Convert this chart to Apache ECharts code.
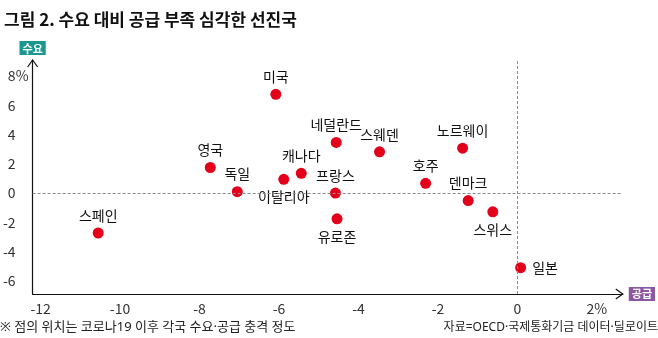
<!DOCTYPE html>
<html>
<head>
<meta charset="utf-8">
<script src="https://cdn.jsdelivr.net/npm/echarts@6/dist/echarts.min.js"></script>
<style>
  html, body { margin: 0; padding: 0; background: #fff; }
  #chart { width: 658px; height: 338px; }
</style>
</head>
<body>
<div id="chart"></div>
<script>
// Countries and their supply (x) / demand (y) shock, in %
const countries = ['스페인', '영국', '독일', '미국', '이탈리아', '캐나다', '프랑스', '네덜란드', '유로존', '스웨덴', '호주', '노르웨이', '덴마크', '스위스', '일본'];
const supplyShock = [-10.55, -7.73, -7.05, -6.08, -5.88, -5.44, -4.58, -4.56, -4.54, -3.47, -2.31, -1.38, -1.24, -0.62, 0.08];
const demandShock = [-2.73, 1.75, 0.1, 6.75, 0.94, 1.35, 0.0, 3.46, -1.76, 2.82, 0.67, 3.07, -0.51, -1.28, -5.1];

const xTicks = [-12, -10, -8, -6, -4, -2, 0, 2];
const yTicks = [-6, -4, -2, 0, 2, 4, 6, 8];

const titleText = '그림 2. 수요 대비 공급 부족 심각한 선진국';
const noteText = '※ 점의 위치는 코로나19 이후 각국 수요·공급 충격 정도';
const sourceText = '자료=OECD·국제통화기금 데이터·딜로이트';

// Label side for names that sit under or beside their dot
const labelSide = { '이탈리아': 'bottom', '유로존': 'bottom', '스위스': 'bottom', '일본': 'right' };

const FONT = '"Noto Sans CJK KR", "Noto Sans", sans-serif';
const NOTE_FONT = '"Noto Sans", "Noto Sans CJK KR", sans-serif';
const X_MIN = -12.2, X_MAX = 2.65, Y_MIN = -6.9, Y_MAX = 9.1;

const chart = echarts.init(document.getElementById('chart'), null, { renderer: 'canvas' });

const points = countries.map((name, i) => {
  const side = labelSide[name] || 'top';
  return {
    name: name,
    value: [supplyShock[i], demandShock[i]],
    label: { position: side, distance: side === 'right' ? 6 : 5 }
  };
});

chart.setOption({
  animation: false,
  textStyle: { fontFamily: FONT },
  title: {
    text: titleText,
    left: -1,
    top: 6,
    textStyle: { fontFamily: FONT, fontSize: 17, fontWeight: 'bold', color: '#111' }
  },
  grid: { left: 32, top: 60, width: 594, height: 234, containLabel: false },
  xAxis: {
    type: 'value',
    min: X_MIN,
    max: X_MAX,
    name: '공급',
    nameLocation: 'end',
    nameGap: 6,
    nameTextStyle: {
      color: '#fff', fontWeight: 'bold', fontSize: 11, fontFamily: FONT,
      backgroundColor: '#8d56a1', padding: [2, 3, 1, 3], verticalAlign: 'middle'
    },
    axisLine: { show: true, onZero: false, lineStyle: { color: '#111', width: 1.2 } },
    axisTick: { show: false },
    splitLine: { show: false },
    axisLabel: {
      customValues: xTicks,
      margin: 8,
      color: '#333',
      fontSize: 14,
      fontFamily: FONT,
      formatter: v => (v === 2 ? '2%' : String(v))
    }
  },
  yAxis: {
    type: 'value',
    min: Y_MIN,
    max: Y_MAX,
    name: '수요',
    nameLocation: 'end',
    nameGap: 5,
    nameTextStyle: {
      color: '#fff', fontWeight: 'bold', fontSize: 11, fontFamily: FONT,
      backgroundColor: '#1b9690', padding: [2, 3, 1, 3], align: 'center'
    },
    axisLine: { show: true, onZero: false, lineStyle: { color: '#111', width: 1.2 } },
    axisTick: { show: false },
    splitLine: { show: false },
    axisLabel: {
      customValues: yTicks,
      margin: 17,
      color: '#333',
      fontSize: 14,
      fontFamily: FONT
    }
  },
  series: [{
    type: 'scatter',
    data: points,
    symbolSize: 11,
    itemStyle: { color: '#e2001a', opacity: 1 },
    label: {
      show: true,
      formatter: '{b}',
      color: '#111',
      fontSize: 14,
      fontFamily: FONT
    },
    emphasis: { disabled: true },
    markLine: {
      silent: true,
      symbol: 'none',
      label: { show: false },
      lineStyle: { color: '#8a8a8a', type: [3, 2], width: 1 },
      data: [{ xAxis: 0 }, { yAxis: 0 }]
    }
  }]
});

// Open chevron arrowheads on the axis ends, the % unit after the top tick, and footnotes
const yTip = chart.convertToPixel({ gridIndex: 0 }, [X_MIN, Y_MAX]);
const xTip = chart.convertToPixel({ gridIndex: 0 }, [X_MAX, Y_MIN]);
const topTick = chart.convertToPixel({ gridIndex: 0 }, [X_MIN, yTicks[yTicks.length - 1]]);
chart.setOption({
  graphic: [
    {
      type: 'polyline',
      shape: { points: [[yTip[0] - 5, yTip[1] + 7], [yTip[0], yTip[1]], [yTip[0] + 5, yTip[1] + 7]] },
      style: { stroke: '#111', lineWidth: 1.2, fill: null }
    },
    {
      type: 'polyline',
      shape: { points: [[xTip[0] - 7, xTip[1] - 5], [xTip[0], xTip[1]], [xTip[0] - 7, xTip[1] + 5]] },
      style: { stroke: '#111', lineWidth: 1.2, fill: null }
    },
    {
      type: 'text', x: topTick[0] - 17, y: topTick[1],
      style: { text: '%', fontSize: 14, fontFamily: FONT, fill: '#333', align: 'left', verticalAlign: 'middle' }
    },
    {
      type: 'text', left: 0, top: 321,
      style: { text: noteText, fontSize: 13, fontFamily: NOTE_FONT, fill: '#222' }
    },
    {
      type: 'text', right: 0, top: 322,
      style: { text: sourceText, fontSize: 12, fontFamily: NOTE_FONT, fill: '#222' }
    }
  ]
});
</script>
</body>
</html>
